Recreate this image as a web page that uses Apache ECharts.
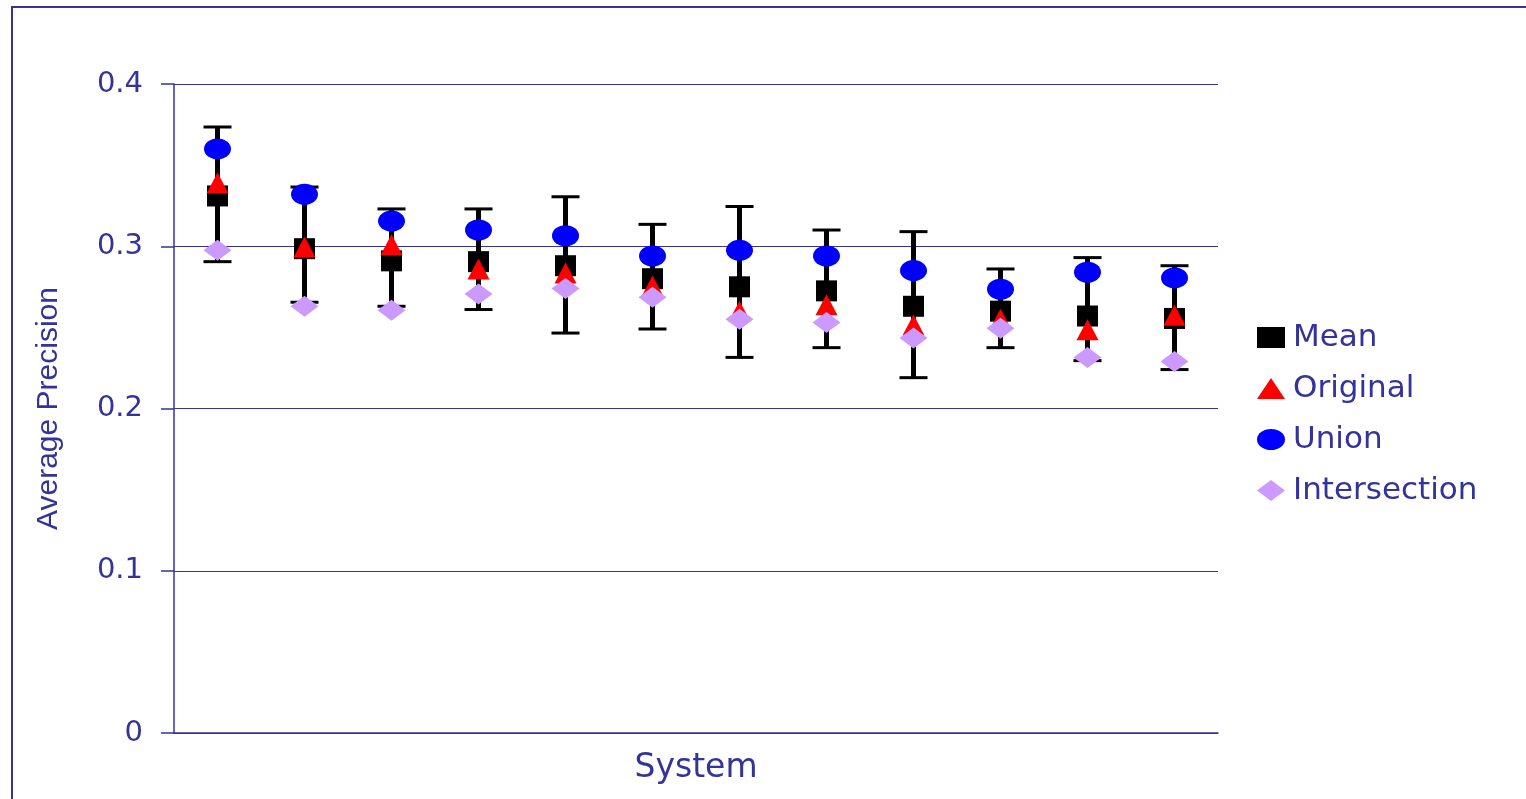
<!DOCTYPE html>
<html>
<head>
<meta charset="utf-8">
<script src="https://cdn.jsdelivr.net/npm/echarts@6/dist/echarts.min.js"></script>
<style>
  html, body { margin: 0; padding: 0; background: #fff; }
  #chart { width: 1526px; height: 799px; }
</style>
</head>
<body>
<div id="chart"></div>
<script>
// 12 systems, no tick labels on the x axis
var systems = ['1', '2', '3', '4', '5', '6', '7', '8', '9', '10', '11', '12'];

var mean = [0.331, 0.2985, 0.291, 0.2905, 0.288, 0.280, 0.275, 0.2725, 0.263, 0.260, 0.257, 0.2555];
var original = [0.339, 0.2995, 0.301, 0.286, 0.2835, 0.2755, 0.260, 0.264, 0.2515, 0.255, 0.2485, 0.2575];
var union = [0.360, 0.332, 0.3155, 0.310, 0.3065, 0.294, 0.2975, 0.294, 0.285, 0.2735, 0.284, 0.2805];
var intersection = [0.2975, 0.263, 0.2605, 0.2705, 0.274, 0.2685, 0.255, 0.253, 0.2435, 0.2495, 0.2315, 0.229];

// error bar ends around the mean
var errLow = [0.2905, 0.2655, 0.263, 0.261, 0.2465, 0.249, 0.2315, 0.2375, 0.219, 0.2375, 0.2295, 0.224];
var errHigh = [0.3735, 0.3365, 0.323, 0.323, 0.3305, 0.3135, 0.3245, 0.310, 0.309, 0.286, 0.293, 0.288];

var navy = '#333399';
var ellipse = 'path://M0,50a50,50 0 1,0 100,0a50,50 0 1,0 -100,0z';

var errData = [];
for (var i = 0; i < systems.length; i++) {
  errData.push([i, errLow[i], errHigh[i]]);
}

var chart = echarts.init(document.getElementById('chart'));

chart.setOption({
  backgroundColor: '#fff',
  animation: false,
  graphic: [{
    type: 'rect',
    shape: { x: 12, y: 7, width: 1540, height: 820 },
    style: { fill: 'none', stroke: navy, lineWidth: 2 },
    silent: true
  }],
  grid: { left: 174, right: 308, top: 84, bottom: 66 },
  legend: {
    orient: 'vertical',
    left: 1252,
    top: 317,
    itemWidth: 28,
    itemHeight: 21,
    itemGap: 20,
    symbolKeepAspect: false,
    data: [
      { name: 'Mean' },
      { name: 'Original' },
      { name: 'Union', icon: ellipse },
      { name: 'Intersection' }
    ],
    textStyle: { color: navy, fontFamily: 'DejaVu Sans', fontSize: 31, padding: [0, 0, 0, 3] }
  },
  xAxis: {
    type: 'category',
    data: systems,
    name: 'System',
    nameLocation: 'middle',
    nameGap: 19,
    nameTextStyle: { color: navy, fontFamily: 'DejaVu Sans', fontSize: 33, verticalAlign: 'top' },
    axisLine: { lineStyle: { color: navy, width: 1.5 } },
    axisTick: { length: 10, lineStyle: { color: navy, width: 1.5 } },
    axisLabel: { show: false }
  },
  yAxis: {
    type: 'value',
    min: 0,
    max: 0.4,
    interval: 0.1,
    name: 'Average Precision',
    nameLocation: 'middle',
    nameGap: 110,
    nameTextStyle: { color: navy, fontFamily: 'Liberation Sans', fontSize: 30 },
    axisLine: { show: true, lineStyle: { color: navy, width: 1.5 } },
    axisTick: { show: true, length: 13, lineStyle: { color: navy, width: 1.5 } },
    axisLabel: {
      margin: 31,
      color: navy,
      fontFamily: 'DejaVu Sans',
      fontSize: 29,
      formatter: function (v) { return v === 0 ? '0' : v.toFixed(1); }
    },
    splitLine: { lineStyle: { color: navy, width: 1 } }
  },
  series: [
    {
      name: 'err',
      type: 'custom',
      data: errData,
      z: 1,
      renderItem: function (params, api) {
        var lo = api.coord([api.value(0), api.value(1)]);
        var hi = api.coord([api.value(0), api.value(2)]);
        var half = 14;
        var st = { stroke: '#000', lineWidth: 5 };
        var cap = { stroke: '#000', lineWidth: 3 };
        return {
          type: 'group',
          children: [
            { type: 'line', shape: { x1: lo[0], y1: lo[1], x2: hi[0], y2: hi[1] }, style: st },
            { type: 'line', shape: { x1: hi[0] - half, y1: hi[1], x2: hi[0] + half, y2: hi[1] }, style: cap },
            { type: 'line', shape: { x1: lo[0] - half, y1: lo[1], x2: lo[0] + half, y2: lo[1] }, style: cap }
          ]
        };
      }
    },
    {
      name: 'Mean', type: 'scatter', data: mean, z: 2,
      symbol: 'rect', symbolSize: [21, 21],
      itemStyle: { color: '#000', opacity: 1 }
    },
    {
      name: 'Original', type: 'scatter', data: original, z: 3,
      symbol: 'triangle', symbolSize: [22, 21],
      itemStyle: { color: '#ff0000', opacity: 1 }
    },
    {
      name: 'Union', type: 'scatter', data: union, z: 4,
      symbol: ellipse, symbolSize: [27, 21],
      itemStyle: { color: '#0000ff', opacity: 1 }
    },
    {
      name: 'Intersection', type: 'scatter', data: intersection, z: 5,
      symbol: 'diamond', symbolSize: [28, 21],
      itemStyle: { color: '#cc99ff', opacity: 1 }
    }
  ]
});
</script>
</body>
</html>
